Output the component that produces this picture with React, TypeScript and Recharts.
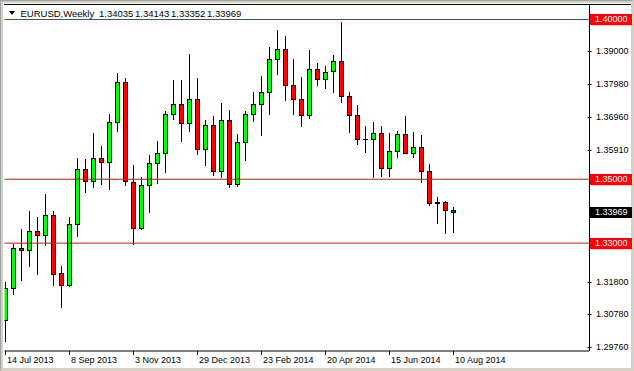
import React from 'react'
import { ComposedChart, Bar, XAxis, YAxis, ReferenceLine } from 'recharts'

const FONT = '"Liberation Sans", Arial, sans-serif'
const FS = 9

// weekly EURUSD candles (first = 14 Jul 2013)
const opens = [1.30608, 1.31603, 1.32847, 1.32785, 1.33376, 1.33251, 1.33873, 1.32069, 1.31696, 1.33593,
  1.35335, 1.34931, 1.35677, 1.35553, 1.36797, 1.38041, 1.349, 1.33469, 1.34806, 1.35522,
  1.35833, 1.37045, 1.37356, 1.36766, 1.37512, 1.35957, 1.36703, 1.35273, 1.36859, 1.34837,
  1.36175, 1.37045, 1.37356, 1.3773, 1.38756, 1.39067, 1.37947, 1.37512, 1.37014, 1.38445,
  1.38134, 1.38383, 1.38694, 1.37605, 1.37014, 1.36268, 1.36268, 1.36455, 1.35366, 1.35895,
  1.36423, 1.35833, 1.36019, 1.35273, 1.34246, 1.34278, 1.34035]
const highs = [1.3179, 1.32971, 1.33438, 1.33998, 1.33811, 1.34526, 1.33998, 1.32287, 1.33811, 1.35677,
  1.35646, 1.36455, 1.3605, 1.37045, 1.38321, 1.38165, 1.35459, 1.35055, 1.3577, 1.36206,
  1.37139, 1.38103, 1.38103, 1.38911, 1.38165, 1.36859, 1.36983, 1.37388, 1.3717, 1.36423,
  1.37139, 1.3773, 1.38227, 1.39129, 1.39658, 1.39471, 1.38756, 1.38196, 1.39036, 1.38631,
  1.38538, 1.3888, 1.39907, 1.3773, 1.37325, 1.36672, 1.36797, 1.36672, 1.36455, 1.36517,
  1.36983, 1.36486, 1.36392, 1.3549, 1.34433, 1.34309, 1.34143]
const lows = [1.29924, 1.31416, 1.31852, 1.32287, 1.32038, 1.3294, 1.31696, 1.31012, 1.31665, 1.3322,
  1.34589, 1.34744, 1.34837, 1.34682, 1.36517, 1.34806, 1.32971, 1.33438, 1.33967, 1.34868,
  1.35242, 1.3689, 1.36206, 1.36517, 1.35801, 1.35459, 1.35148, 1.35055, 1.34744, 1.34775,
  1.35615, 1.36828, 1.36392, 1.37045, 1.38289, 1.37481, 1.37045, 1.36672, 1.36921, 1.37947,
  1.37854, 1.3773, 1.37419, 1.36486, 1.36112, 1.35864, 1.35055, 1.35117, 1.35086, 1.35708,
  1.3582, 1.35708, 1.349, 1.34184, 1.33624, 1.33313, 1.33352]
const closes = [1.31603, 1.32847, 1.32785, 1.33376, 1.33251, 1.33873, 1.32038, 1.31696, 1.33593, 1.35335,
  1.34931, 1.35677, 1.35553, 1.36797, 1.38041, 1.34931, 1.33469, 1.34806, 1.35522, 1.35833,
  1.37045, 1.37356, 1.36766, 1.37512, 1.35957, 1.36703, 1.35273, 1.36859, 1.34837, 1.36175,
  1.37045, 1.37356, 1.3773, 1.38756, 1.39067, 1.37947, 1.37512, 1.37014, 1.38445, 1.38134,
  1.38352, 1.38694, 1.37605, 1.37014, 1.36268, 1.3627, 1.36455, 1.35366, 1.35895, 1.36423,
  1.35833, 1.36019, 1.35273, 1.34246, 1.34278, 1.34029, 1.33969]

const dateLabels = ['14 Jul 2013', '8 Sep 2013', '3 Nov 2013', '29 Dec 2013', '23 Feb 2014', '20 Apr 2014', '15 Jun 2014', '10 Aug 2014']
const dateTicks = [0, 8, 16, 24, 32, 40, 48, 56]
// the 1.32850 / 1.33870 / 1.34890 ticks sit under the price tags, so they're left out
const priceTicks = [1.2976, 1.3078, 1.318, 1.3591, 1.3696, 1.3798, 1.39]
const levels = [1.4, 1.35, 1.33]
const lastPrice = 1.33969
const titleSymbol = 'EURUSD,Weekly'
const titleOHLC = ['1.34035', '1.34143', '1.33352', '1.33969']

const data = opens.map((o, i) => ({ idx: i, open: o, high: highs[i], low: lows[i], close: closes[i] }))

function Candle(props: any) {
  const { x, y, width, height, payload } = props
  const { open, close, high, low } = payload
  const top = Math.min(y, y + height)
  const h = Math.abs(height)
  const k = high - low > 0 ? h / (high - low) : 0
  const yOf = (v: number) => top + (high - v) * k
  const c = Math.floor(x + width / 2)
  const yO = yOf(open)
  const yC = yOf(close)
  const t = Math.round(Math.min(yO, yC))
  const b = Math.round(Math.max(yO, yC))
  const fill = close > open ? '#00ff00' : '#ff0000'
  return (
    <g>
      <line x1={c + 0.5} x2={c + 0.5} y1={Math.round(top)} y2={Math.round(top + h) + 1} stroke="#000" strokeWidth={1} />
      {b - t < 1 ? (
        <line x1={c - 2} x2={c + 3} y1={t + 0.5} y2={t + 0.5} stroke="#000" strokeWidth={1} />
      ) : (
        <rect x={c - 1.5} y={t + 0.5} width={4} height={b - t} fill={fill} stroke="#000" strokeWidth={1} />
      )}
    </g>
  )
}

function DateTick(props: any) {
  const { x, y, payload } = props
  const label = dateLabels[dateTicks.indexOf(payload.value)]
  const px = Math.floor(x) + 0.5
  return (
    <g>
      <line x1={px} x2={px} y1={y} y2={y + 4} stroke="#000" />
      <text x={px + 1.5} y={y + 11.5} fontSize={FS} fontFamily={FONT} fill="#000">{label}</text>
    </g>
  )
}

function PriceTick(props: any) {
  const { x, y, payload } = props
  const py = Math.round(y) + 0.5
  return (
    <g>
      <line x1={x - 2} x2={x + 2} y1={py} y2={py} stroke="#000" />
      <text x={x + 6.5} y={y + 3} fontSize={FS} fontFamily={FONT} fill="#000">{payload.value.toFixed(5)}</text>
    </g>
  )
}

function PriceTag(props: any) {
  const { viewBox, text, color } = props
  const left = Math.floor(viewBox.x + viewBox.width) + 1
  const cy = viewBox.y
  return (
    <g>
      <rect x={left} y={Math.round(cy) - 5} width={42} height={11} fill={color} />
      <text x={left + 5} y={cy + 3} fontSize={FS} fontFamily={FONT} fill="#fff">{text}</text>
    </g>
  )
}

export default function App() {
  return (
    <div style={{ position: 'absolute', left: 0, top: 0, width: 634, height: 371, background: '#fff', overflow: 'hidden' }}>
      <div style={{ position: 'absolute', inset: 0, borderLeft: '1px solid #a0a0a0', borderTop: '1px solid #a0a0a0', borderRight: '3px solid #d4d0c8', borderBottom: '3px solid #d4d0c8', boxShadow: 'inset 2px 2px 0 #d4d0c8' }} />
      <div style={{ position: 'absolute', left: 4, top: 4, width: 627, height: 1, background: '#000' }} />
      <div style={{ position: 'absolute', left: 0, top: 0 }}>
        <ComposedChart width={634} height={371} data={data} margin={{ top: 4.5, left: 4.5, right: 0, bottom: 0 }}>
          <XAxis dataKey="idx" type="number" domain={[-0.125, 73]} allowDataOverflow ticks={dateTicks} interval={0}
            tick={<DateTick />} tickLine={false} tickSize={0} tickMargin={0} height={20} axisLine={{ stroke: '#000' }} />
          <XAxis xAxisId="top" orientation="top" dataKey="idx" type="number" domain={[-0.125, 73]} height={0}
            tick={false} tickLine={false} axisLine={{ stroke: '#000' }} />
          <YAxis orientation="right" type="number" domain={[1.29625, 1.4046875]} allowDataOverflow ticks={priceTicks} interval={0}
            tick={<PriceTick />} tickLine={false} tickSize={0} tickMargin={0} width={44.5} axisLine={{ stroke: '#000' }} />
          <YAxis yAxisId="left" orientation="left" type="number" domain={[1.29625, 1.4046875]} width={0}
            tick={false} tickLine={false} axisLine={{ stroke: '#000' }} />
          <Bar dataKey={(d: any) => [d.low, d.high]} barSize={5} shape={<Candle />} isAnimationActive={false} />
          {levels.map((v) => (
            <ReferenceLine key={v} y={v} stroke="#ff0000" strokeWidth={1}
              label={<PriceTag text={v.toFixed(5)} color="#ff0000" />} />
          ))}
          <ReferenceLine y={lastPrice} stroke="none" label={<PriceTag text={lastPrice.toFixed(5)} color="#000" />} />
        </ComposedChart>
      </div>
      <svg width={634} height={30} style={{ position: 'absolute', left: 0, top: 0, pointerEvents: 'none' }}>
        <polygon points="9,11 15,11 12,15" fill="#000" />
        <text x={20.5} y={16.5} fontSize={9.5} fontFamily={FONT} fill="#000">{titleSymbol}</text>
        {titleOHLC.map((v, i) => (
          <text key={v} x={99 + i * 36} y={16.5} fontSize={9.5} fontFamily={FONT} fill="#000">{v}</text>
        ))}
      </svg>
    </div>
  )
}
